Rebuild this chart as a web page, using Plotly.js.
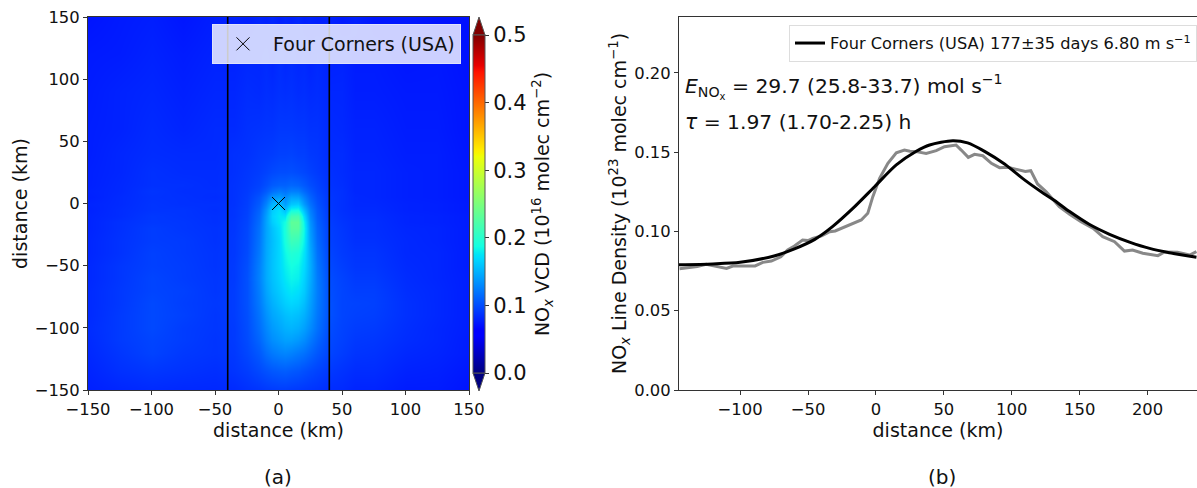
<!DOCTYPE html>
<html><head><meta charset="utf-8">
<script src="https://cdn.plot.ly/plotly-3.0.1.min.js"></script>
<style>html,body{margin:0;padding:0;background:#fff}</style></head>
<body><div id="chart" style="width:1197px;height:488px"></div>
<script>
const mapX=[-150,-125,-100,-75,-50,-35,-25,-15,-10,-5,0,5,10,15,20,25,30,40,50,60,75,100,125,150];
const mapY=[150,120,90,60,40,25,15,10,5,0,-5,-10,-15,-20,-30,-40,-50,-60,-70,-80,-90,-100,-110,-120,-135,-150];
const mapZ=[
[.072,.075,.077,.073,.077,.079,.077,.080,.078,.081,.077,.080,.078,.081,.077,.079,.077,.079,.075,.078,.073,.074,.071,.070],
[.075,.076,.079,.076,.079,.079,.081,.081,.083,.080,.084,.081,.083,.081,.082,.079,.082,.078,.079,.076,.076,.073,.074,.071],
[.076,.079,.081,.078,.081,.081,.084,.083,.085,.084,.086,.085,.086,.084,.085,.083,.084,.081,.081,.077,.077,.075,.075,.072],
[.077,.079,.083,.080,.083,.083,.086,.087,.088,.088,.090,.090,.090,.089,.089,.087,.087,.083,.082,.079,.079,.076,.076,.072],
[.077,.081,.084,.083,.083,.086,.087,.090,.091,.092,.094,.094,.095,.093,.093,.090,.089,.084,.084,.080,.080,.077,.077,.073],
[.078,.081,.086,.084,.084,.086,.089,.092,.095,.098,.100,.100,.101,.099,.097,.094,.091,.086,.084,.081,.081,.078,.077,.074],
[.078,.082,.086,.086,.084,.087,.090,.095,.101,.107,.110,.110,.113,.111,.106,.100,.095,.087,.085,.081,.081,.078,.077,.074],
[.079,.082,.088,.085,.085,.087,.091,.098,.107,.117,.123,.119,.125,.124,.114,.105,.097,.088,.086,.081,.081,.078,.077,.074],
[.078,.083,.087,.086,.084,.087,.092,.103,.117,.135,.141,.130,.143,.142,.126,.111,.100,.089,.086,.082,.081,.078,.077,.074],
[.080,.083,.088,.086,.086,.087,.093,.107,.127,.151,.158,.140,.160,.163,.138,.118,.103,.089,.086,.082,.082,.079,.078,.075],
[.079,.084,.088,.088,.085,.088,.094,.111,.136,.163,.172,.156,.186,.188,.155,.125,.106,.090,.086,.083,.083,.079,.078,.075],
[.080,.084,.090,.088,.086,.088,.095,.114,.141,.166,.176,.175,.216,.218,.170,.130,.108,.091,.087,.084,.084,.080,.079,.076],
[.080,.086,.090,.089,.086,.089,.096,.116,.143,.163,.175,.188,.232,.232,.180,.135,.110,.092,.088,.085,.085,.080,.079,.076],
[.080,.086,.092,.089,.087,.089,.097,.118,.143,.158,.171,.192,.228,.228,.184,.138,.112,.093,.089,.085,.085,.081,.080,.076],
[.081,.087,.092,.091,.087,.090,.098,.120,.144,.156,.168,.190,.212,.208,.180,.142,.115,.094,.090,.086,.086,.082,.080,.076],
[.081,.087,.094,.091,.088,.090,.099,.122,.145,.157,.168,.184,.196,.192,.174,.146,.118,.096,.091,.088,.088,.082,.081,.076],
[.082,.089,.094,.092,.088,.091,.101,.125,.146,.158,.168,.180,.188,.184,.170,.148,.121,.098,.093,.089,.089,.083,.081,.076],
[.082,.089,.096,.092,.089,.091,.102,.126,.146,.157,.166,.176,.183,.180,.166,.147,.123,.100,.095,.091,.091,.084,.081,.077],
[.083,.090,.096,.094,.089,.092,.102,.124,.143,.154,.162,.170,.176,.172,.162,.144,.124,.101,.096,.093,.093,.085,.082,.077],
[.083,.090,.098,.093,.090,.092,.102,.122,.139,.149,.157,.164,.168,.165,.156,.141,.123,.102,.096,.095,.094,.086,.082,.077],
[.083,.091,.098,.094,.089,.092,.101,.119,.134,.144,.150,.156,.159,.156,.149,.137,.121,.102,.096,.094,.093,.086,.082,.077],
[.084,.091,.098,.092,.089,.091,.100,.116,.129,.138,.144,.149,.151,.148,.141,.131,.118,.100,.095,.092,.091,.085,.081,.077],
[.083,.091,.096,.092,.088,.091,.099,.112,.124,.132,.137,.141,.141,.137,.131,.122,.112,.098,.094,.090,.089,.084,.081,.076],
[.082,.089,.095,.090,.088,.090,.097,.106,.116,.122,.126,.128,.126,.122,.118,.112,.105,.096,.092,.088,.087,.082,.080,.076],
[.080,.086,.089,.087,.085,.088,.092,.098,.102,.105,.107,.108,.106,.104,.101,.098,.095,.090,.087,.084,.084,.079,.078,.074],
[.078,.081,.083,.082,.082,.083,.086,.088,.090,.091,.092,.092,.091,.090,.089,.088,.087,.084,.083,.080,.080,.076,.076,.072]
];
const sourceName="Four Corners (USA)";
const sourceX=[0], sourceY=[0];
const boxEdgeX=[-40,40];
const densX=[-144.6,-139,-131.6,-125,-117.6,-110,-105.4,-98,-89,-83.3,-77,-70,-65,-60,-54,-50,-46.5,-40,-34,-30,-24.4,-18,-10.8,-6,-2.3,2.7,8.8,15,21,25,29.7,37,44.4,50.5,55,59,62.8,68,72.6,78.7,85,91,97,104.5,110,114,119,125.4,135,142.6,151,160,167,175.7,183,189,196.5,207.6,212.5,222,231,236];
const densY=[.0765,.0771,.0778,.0792,.0782,.0767,.0782,.078,.0782,.0805,.0813,.084,.0883,.0908,.0946,.0942,.0956,.0972,.0998,.1003,.1023,.1045,.1072,.1114,.1219,.1335,.1429,.1496,.1513,.1506,.1503,.1492,.1509,.1534,.1538,.1545,.1513,.1467,.1486,.1477,.1429,.1402,.1404,.1391,.1378,.1383,.1299,.125,.1156,.1108,.1061,.1019,.0967,.0935,.0876,.0883,.0862,.0847,.087,.0868,.0851,.0872];
const fitX=[-145,-120,-100,-75,-60,-45,-32,-17,-1,15,29.7,39.5,56.6,67.5,80,94.7,109.4,121.7,131.5,142.6,157,172,186.7,201.5,216,236];
const fitY=[.079,.0795,.0805,.0845,.089,.095,.103,.1145,.1282,.1419,.1505,.1545,.1572,.1558,.1505,.1425,.1325,.125,.1195,.1125,.1045,.0982,.0933,.0893,.0866,.0837];
const fitName="Four Corners (USA) 177±35 days 6.80 m s<sup>−1</sup>";
const xTicksR=[-100,-50,0,50,100,150,200];
const yTicksR=[0,.05,.10,.15,.20];
const xTicksL=[-150,-100,-50,0,50,100,150];
const cbTicks=[0,.1,.2,.3,.4,.5];
const jet=[[0,'rgb(0,0,128)'],[.11,'rgb(0,0,255)'],[.125,'rgb(0,0,255)'],[.34,'rgb(0,219,255)'],[.35,'rgb(0,229,247)'],[.375,'rgb(20,255,226)'],[.64,'rgb(238,255,8)'],[.65,'rgb(247,246,0)'],[.66,'rgb(255,236,0)'],[.89,'rgb(255,19,0)'],[.91,'rgb(232,0,0)'],[1,'rgb(128,0,0)']];

const W=1197,H=488,F='"DejaVu Sans",sans-serif';
const px=v=>v/W, py=v=>(H-v)/H;
const ax={showline:true,mirror:true,linecolor:'#333',linewidth:1,ticks:'outside',ticklen:4,tickwidth:1,tickcolor:'#333',zeroline:false,showgrid:false};

const data=[
 {type:'heatmap',x:mapX,y:mapY,z:mapZ,zmin:0,zmax:.5,zsmooth:'best',colorscale:jet,hoverinfo:'skip',showlegend:false,
  colorbar:{x:px(473),xanchor:'left',xpad:0,ypad:0,thickness:12,lenmode:'pixels',len:338,y:py(373),yanchor:'bottom',
   tickvals:cbTicks,tickformat:'.1f',ticks:'outside',ticklen:4,tickwidth:1,tickcolor:'#333',
   tickfont:{family:F,size:21,color:'#111'},outlinewidth:1,outlinecolor:'#555',
   title:{text:'NO<sub><i>x</i></sub> VCD (10<sup>16</sup> molec cm<sup>−2</sup>)',side:'right',font:{family:F,size:19,color:'#111'}}}},
 {type:'scatter',mode:'lines',x:[boxEdgeX[0],boxEdgeX[0]],y:[-150,150],line:{color:'#000',width:1.6},showlegend:false,hoverinfo:'skip'},
 {type:'scatter',mode:'lines',x:[boxEdgeX[1],boxEdgeX[1]],y:[-150,150],line:{color:'#000',width:1.6},showlegend:false,hoverinfo:'skip'},
 {type:'scatter',mode:'markers',x:sourceX,y:sourceY,name:sourceName,legend:'legend2',showlegend:true,
  marker:{symbol:'x-thin',size:13,color:'#000',line:{color:'#000',width:1}}},
 {type:'scatter',mode:'lines',xaxis:'x2',yaxis:'y2',x:densX,y:densY,line:{color:'#888',width:3},showlegend:false,hoverinfo:'skip'},
 {type:'scatter',mode:'lines',xaxis:'x2',yaxis:'y2',x:fitX,y:fitY,name:fitName,line:{color:'#000',width:3,shape:'spline',smoothing:.8},showlegend:true}
];
const layout={
 width:W,height:H,margin:{l:0,r:0,t:0,b:0},paper_bgcolor:'#fff',plot_bgcolor:'#fff',font:{family:F,color:'#111'},
 xaxis:Object.assign({},ax,{domain:[px(88),px(469)],range:[-150,150],tickvals:xTicksL,tickfont:{size:16.4},anchor:'y',
   title:{text:'distance (km)',font:{size:19},standoff:1}}),
 yaxis:Object.assign({},ax,{domain:[py(390),py(17)],range:[-150,150],tickvals:xTicksL,tickfont:{size:16.4},anchor:'x',
   title:{text:'distance (km)',font:{size:19},standoff:2}}),
 xaxis2:Object.assign({},ax,{domain:[px(679),1],range:[-145,236.4],tickvals:xTicksR,tickfont:{size:16.4},anchor:'y2',
   title:{text:'distance (km)',font:{size:19},standoff:1}}),
 yaxis2:Object.assign({},ax,{domain:[py(390),py(17)],range:[0,.2352],tickvals:yTicksR,tickformat:'.2f',tickfont:{size:16.4},anchor:'x2',
   title:{text:'NO<sub><i>x</i></sub> Line Density (10<sup>23</sup> molec cm<sup>−1</sup>)',font:{size:19},standoff:2}}),
 legend:{x:px(789),xanchor:'left',y:py(25),yanchor:'top',bgcolor:'rgba(255,255,255,.8)',bordercolor:'#ddd',borderwidth:1,font:{family:F,size:16.2,color:'#111'},itemwidth:30},
 legend2:{x:px(212),xanchor:'left',y:py(24),yanchor:'top',bgcolor:'rgba(255,255,255,.8)',bordercolor:'#dfe2fb',borderwidth:1,font:{family:F,size:19,color:'#111'},itemwidth:50},
 shapes:[
  {type:'path',xref:'paper',yref:'paper',path:`M ${px(473)} ${py(35)} L ${px(479)} ${py(17)} L ${px(485)} ${py(35)} Z`,fillcolor:'rgb(128,0,0)',line:{color:'#555',width:1}},
  {type:'path',xref:'paper',yref:'paper',path:`M ${px(473)} ${py(373)} L ${px(479)} ${py(391)} L ${px(485)} ${py(373)} Z`,fillcolor:'rgb(0,0,128)',line:{color:'#555',width:1}}
 ],
 annotations:[
  {xref:'paper',yref:'paper',x:px(683),y:py(86),xanchor:'left',yanchor:'middle',showarrow:false,font:{family:F,size:20.3,color:'#111'},
   text:'<i>E</i><sub>NO<sub>x</sub></sub> = 29.7 (25.8-33.7) mol s<sup>−1</sup>'},
  {xref:'paper',yref:'paper',x:px(683),y:py(122),xanchor:'left',yanchor:'middle',showarrow:false,font:{family:F,size:20.3,color:'#111'},
   text:'<i>τ</i> = 1.97 (1.70-2.25) h'},
  {xref:'paper',yref:'paper',x:px(278),y:py(477),xanchor:'center',yanchor:'middle',showarrow:false,font:{family:F,size:20,color:'#111'},text:'(a)'},
  {xref:'paper',yref:'paper',x:px(942),y:py(477),xanchor:'center',yanchor:'middle',showarrow:false,font:{family:F,size:20,color:'#111'},text:'(b)'}
 ]
};
Plotly.newPlot('chart',data,layout,{displayModeBar:false,responsive:false});
</script></body></html>
